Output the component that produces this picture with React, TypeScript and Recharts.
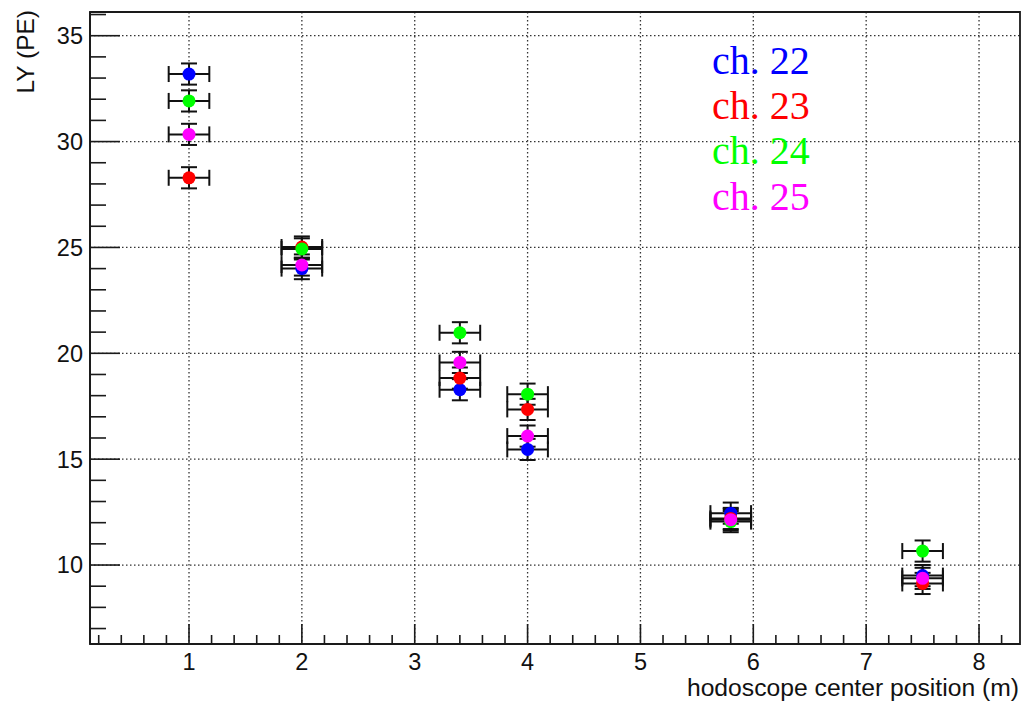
import React from 'react';
import { ScatterChart, Scatter, XAxis, YAxis, CartesianGrid, ErrorBar, ReferenceArea } from 'recharts';

// hodoscope center positions (m)
const positions = [1, 2, 3.4, 4, 5.8, 7.5];
// light yield (PE) per channel
const ch22 = [33.19, 24.0, 18.28, 15.46, 12.45, 9.5];
const ch23 = [28.29, 25.02, 18.83, 17.35, 12.2, 9.13];
const ch24 = [31.92, 24.93, 20.97, 18.07, 12.05, 10.66];
const ch25 = [30.34, 24.17, 19.57, 16.09, 12.14, 9.37];
// uncertainties
const xErr = [0.18, 0.18, 0.18, 0.18, 0.18, 0.18];
const yErr = [0.5, 0.5, 0.5, 0.5, 0.5, 0.5];

const channelNames = ['ch. 22', 'ch. 23', 'ch. 24', 'ch. 25'];
const channelColors = ['#0000ff', '#ff0000', '#00ff00', '#ff00ff'];

const xTicks = [0.2, 0.4, 0.6, 0.8, 1, 1.2, 1.4, 1.6, 1.8, 2, 2.2, 2.4, 2.6, 2.8, 3, 3.2, 3.4, 3.6, 3.8, 4, 4.2, 4.4, 4.6, 4.8, 5, 5.2, 5.4, 5.6, 5.8, 6, 6.2, 6.4, 6.6, 6.8, 7, 7.2, 7.4, 7.6, 7.8, 8, 8.2];
const yTicks = [7, 8, 9, 10, 11, 12, 13, 14, 15, 16, 17, 18, 19, 20, 21, 22, 23, 24, 25, 26, 27, 28, 29, 30, 31, 32, 33, 34, 35, 36];
const xMajor = [1, 2, 3, 4, 5, 6, 7, 8];
const yMajor = [10, 15, 20, 25, 30, 35];

const X_DOMAIN: [number, number] = [0.1228, 8.363];
const Y_DOMAIN: [number, number] = [6.27, 36.12];

const SANS = '"Liberation Sans", Arial, Helvetica, sans-serif';
const SERIF = '"Liberation Serif", "Times New Roman", serif';
const AX = '#1a1a1a';

const seriesValues = [ch22, ch23, ch24, ch25];
const seriesData = seriesValues.map((vals) =>
  positions.map((x, i) => ({ x, y: vals[i], ex: xErr[i], ey: yErr[i] }))
);

const isInt = (v: number) => Math.abs(v - Math.round(v)) < 1e-6;

const YTick = (props: any) => {
  const { x, y, payload } = props;
  const v = payload.value;
  const major = isInt(v / 5);
  return (
    <g>
      <line x1={x} x2={x + (major ? 30 : 16)} y1={y} y2={y} stroke={AX} strokeWidth={1.6} />
      {major && (
        <text x={x - 7} y={y} dy="0.36em" textAnchor="end" fontSize={23.5} fontFamily={SANS} fill="#111">
          {v}
        </text>
      )}
    </g>
  );
};

const XTick = (props: any) => {
  const { x, y, payload } = props;
  const v = payload.value;
  const major = isInt(v);
  return (
    <g>
      <line x1={x} x2={x} y1={y} y2={y - (major ? 20 : 9)} stroke={AX} strokeWidth={1.6} />
      {major && (
        <text x={x} y={y + 26} textAnchor="middle" fontSize={23.5} fontFamily={SANS} fill="#111">
          {Math.round(v)}
        </text>
      )}
    </g>
  );
};

const makeShape = (color: string) => (props: any) => (
  <circle cx={props.cx} cy={props.cy} r={6.5} fill={color} />
);

export default function App() {
  return (
    <div style={{ position: 'absolute', left: 0, top: 0, width: 1027, height: 702, background: '#fff' }}>
      <ScatterChart width={1027} height={702} margin={{ top: 12, right: 7, left: 0, bottom: 0 }}>
        <CartesianGrid
          stroke="#333"
          strokeDasharray="1.5 2.5"
          strokeWidth={1.3}
          horizontalValues={yMajor}
          verticalValues={xMajor}
        />
        <XAxis
          type="number"
          dataKey="x"
          domain={X_DOMAIN}
          allowDataOverflow
          ticks={xTicks}
          interval={0}
          height={58}
          tickLine={false}
          tickSize={0}
          tickMargin={0}
          axisLine={{ stroke: AX, strokeWidth: 1.8 }}
          tick={<XTick />}
        />
        <YAxis
          type="number"
          dataKey="y"
          domain={Y_DOMAIN}
          allowDataOverflow
          ticks={yTicks}
          interval={0}
          width={90}
          tickLine={false}
          tickSize={0}
          tickMargin={0}
          axisLine={{ stroke: AX, strokeWidth: 1.8 }}
          tick={<YTick />}
        />
        <ReferenceArea
          x1={X_DOMAIN[0]}
          x2={X_DOMAIN[1]}
          y1={Y_DOMAIN[0]}
          y2={Y_DOMAIN[1]}
          fill="none"
          fillOpacity={0}
          stroke={AX}
          strokeWidth={1.8}
          ifOverflow="visible"
        />
        {seriesData.map((d, k) => (
          <Scatter
            key={channelNames[k]}
            name={channelNames[k]}
            data={d}
            fill={channelColors[k]}
            isAnimationActive={false}
            shape={makeShape(channelColors[k])}
          >
            <ErrorBar dataKey="ex" direction="x" width={8} stroke="#111" strokeWidth={2} isAnimationActive={false} />
            <ErrorBar dataKey="ey" direction="y" width={8} stroke="#111" strokeWidth={2} isAnimationActive={false} />
          </Scatter>
        ))}
      </ScatterChart>
      <svg
        width={1027}
        height={702}
        style={{ position: 'absolute', left: 0, top: 0, pointerEvents: 'none' }}
      >
        <text
          transform="translate(33.5,10) rotate(-90)"
          textAnchor="end"
          fontSize={24.5}
          fontFamily={SANS}
          fill="#111"
        >
          LY (PE)
        </text>
        <text x={1019} y={696} textAnchor="end" fontSize={24.7} fontFamily={SANS} fill="#111">
          hodoscope center position (m)
        </text>
        {channelNames.map((name, k) => (
          <text key={name} x={712} y={74 + k * 45.2} fontSize={40} fontFamily={SERIF} fill={channelColors[k]}>
            {name}
          </text>
        ))}
      </svg>
    </div>
  );
}
